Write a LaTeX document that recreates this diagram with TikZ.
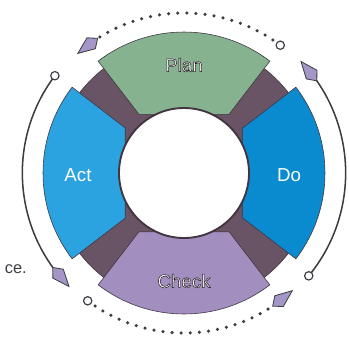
\documentclass[tikz,border=0pt]{standalone}
\usepackage{fontspec}
\setmainfont{Liberation Sans}
\usetikzlibrary{arrows.meta,bending}
\definecolor{pdcaPlan}{RGB}{134,178,143}
\definecolor{pdcaDo}{RGB}{10,139,207}
\definecolor{pdcaCheck}{RGB}{163,142,192}
\definecolor{pdcaAct}{RGB}{43,163,224}
\definecolor{pdcaRing}{RGB}{104,84,101}
\definecolor{pdcaEdge}{RGB}{66,52,64}
\definecolor{pdcaLine}{RGB}{60,60,66}
\definecolor{pdcaTip}{RGB}{165,150,200}
% outlined letters: fill white, stroke dark
\newcommand\pdcaOutline[1]{\special{pdf:literal direct 2 Tr 0.45 w 0.15 0.12 0.15 RG}#1\special{pdf:literal direct 0 Tr}}
\begin{document}
\begin{tikzpicture}[
    pdcaSeg/.style={draw=pdcaEdge,line width=0.5pt},
    pdcaLabel/.style={font=\fontsize{16}{18}\selectfont,text=white},
    pdcaKnob/.style={circle,draw=pdcaLine,fill=white,line width=1pt,minimum size=0.25cm,inner sep=0pt},
    pdcaTipStyle/.style={-{Kite[length=8mm,width=4.4mm,inset=2.6mm,fill=pdcaTip,line width=0.7pt]}},
    pdcaSolid/.style={pdcaTipStyle,draw=pdcaLine,line width=1.3pt},
    pdcaDots/.style={pdcaTipStyle,draw=pdcaLine,line width=3pt,line cap=round,dash pattern=on 0pt off 7.8pt},
]
\useasboundingbox (-5.52,-5.13) rectangle (4.95,5.19);
% === ring ===
\filldraw[fill=pdcaRing,draw=pdcaEdge,line width=0.5pt] (0,0) circle (3.95);
\foreach \ang/\col in {90/pdcaPlan,0/pdcaDo,270/pdcaCheck,180/pdcaAct}
  \filldraw[pdcaSeg,fill=\col] ({\ang-37.5}:2.22) -- ({\ang-37.5}:4.23)
    arc[start angle=\ang-37.5,end angle=\ang+37.5,radius=4.23] -- ({\ang+37.5}:2.22) -- cycle;
\filldraw[fill=white,draw=pdcaEdge,line width=1.6pt] (0,0) circle (1.95);
% === labels ===
\node[pdcaLabel] (planTxt) at (0,3.24) {\pdcaOutline{Plan}};
\node[pdcaLabel] (doTxt) at (3.15,-0.06) {Do};
\node[pdcaLabel] (checkTxt) at (0,-3.24) {\pdcaOutline{Check}};
\node[pdcaLabel] (actTxt) at (-3.18,-0.06) {Act};
\node[font=\fontsize{14}{16}\selectfont,text=pdcaLine,anchor=west] (cutTxt) at (-5.5,-2.88) {ce.};
% === loops ===
\coordinate (startTop) at (53:4.8);
\coordinate (startLeft) at (143:4.85);
\coordinate (startBottom) at (233:4.8);
\coordinate (startRight) at (-39.5:4.85);
\draw[pdcaDots] (startTop) arc[start angle=53,end angle=132,radius=4.8];
\draw[pdcaSolid] (startLeft) arc[start angle=143,end angle=225,radius=4.85];
\draw[pdcaDots] (startBottom) arc[start angle=233,end angle=313,radius=4.8];
\draw[pdcaSolid] (startRight) arc[start angle=-39.5,end angle=44,radius=4.85];
\node[pdcaKnob] (knobTop) at (startTop) {};
\node[pdcaKnob] (knobLeft) at (startLeft) {};
\node[pdcaKnob] (knobBottom) at (startBottom) {};
\node[pdcaKnob] (knobRight) at (startRight) {};
\end{tikzpicture}
\end{document}
